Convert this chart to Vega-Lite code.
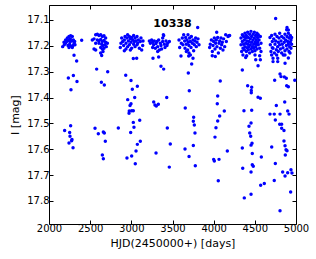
{
  "$schema": "https://vega.github.io/schema/vega-lite/v6.json",
  "width": 247,
  "height": 219,
  "autosize": {"type": "none"},
  "padding": {"left": 49, "top": 5, "right": 20, "bottom": 35},
  "background": "white",
  "title": {"text": "10338", "font": "DejaVu Sans", "fontSize": 11, "fontWeight": "bold", "color": "black", "anchor": "middle", "frame": "group", "offset": -24},
  "config": {
    "view": {"stroke": "black", "strokeWidth": 1},
    "axis": {"grid": false, "domain": false, "tickColor": "black", "tickSize": -4, "labelFont": "DejaVu Sans", "labelFontSize": 10, "labelColor": "black", "titleFont": "DejaVu Sans", "titleFontSize": 11, "titleFontWeight": "normal", "titleColor": "black", "labelFlush": false, "labelOverlap": false, "labelBound": false}
  },
  "data": {"values": [
    {"t":2166,"m":17.203},{"t":2182,"m":17.186},{"t":2202,"m":17.177},{"t":2223,"m":17.170},{"t":2243,"m":17.164},{"t":2263,"m":17.161},{"t":2283,"m":17.164},{"t":2235,"m":17.179},{"t":2255,"m":17.183},{"t":2275,"m":17.181},{"t":2296,"m":17.177},{"t":2304,"m":17.190},{"t":2251,"m":17.194},{"t":2231,"m":17.199},{"t":2267,"m":17.201},{"t":2292,"m":17.199},{"t":2316,"m":17.196},{"t":2202,"m":17.190},{"t":2186,"m":17.196},{"t":2243,"m":17.206},{"t":2283,"m":17.206},{"t":2312,"m":17.183},{"t":2215,"m":17.183},{"t":2259,"m":17.173},
    {"t":2526,"m":17.177},{"t":2547,"m":17.173},{"t":2567,"m":17.157},{"t":2587,"m":17.155},{"t":2607,"m":17.160},{"t":2628,"m":17.157},{"t":2648,"m":17.164},{"t":2668,"m":17.161},{"t":2587,"m":17.177},{"t":2607,"m":17.181},{"t":2628,"m":17.175},{"t":2648,"m":17.183},{"t":2668,"m":17.179},{"t":2688,"m":17.186},{"t":2709,"m":17.190},{"t":2640,"m":17.194},{"t":2656,"m":17.199},{"t":2680,"m":17.196},{"t":2696,"m":17.203},{"t":2547,"m":17.212},{"t":2567,"m":17.216},{"t":2628,"m":17.206},{"t":2648,"m":17.212},{"t":2668,"m":17.209},{"t":2628,"m":17.228},{"t":2640,"m":17.237},{"t":2656,"m":17.222},{"t":2607,"m":17.190},{"t":2567,"m":17.190},{"t":2688,"m":17.170},
    {"t":2866,"m":17.206},{"t":2883,"m":17.170},{"t":2895,"m":17.183},{"t":2907,"m":17.199},{"t":2915,"m":17.177},{"t":2923,"m":17.164},{"t":2935,"m":17.190},{"t":2947,"m":17.170},{"t":2955,"m":17.157},{"t":2964,"m":17.181},{"t":2976,"m":17.164},{"t":2976,"m":17.196},{"t":2988,"m":17.173},{"t":2996,"m":17.186},{"t":3004,"m":17.168},{"t":3004,"m":17.209},{"t":3016,"m":17.177},{"t":3028,"m":17.160},{"t":3028,"m":17.194},{"t":3036,"m":17.183},{"t":3045,"m":17.170},{"t":3045,"m":17.203},{"t":3057,"m":17.181},{"t":3069,"m":17.164},{"t":3069,"m":17.196},{"t":3077,"m":17.190},{"t":3085,"m":17.177},{"t":3097,"m":17.209},{"t":3109,"m":17.183},{"t":3117,"m":17.170},{"t":3126,"m":17.216},{"t":3138,"m":17.199},{"t":3142,"m":17.181},{"t":2874,"m":17.190},{"t":2935,"m":17.212},{"t":2988,"m":17.216},{"t":2915,"m":17.219},{"t":2955,"m":17.203},
    {"t":3219,"m":17.181},{"t":3231,"m":17.190},{"t":3247,"m":17.177},{"t":3259,"m":17.186},{"t":3271,"m":17.196},{"t":3279,"m":17.181},{"t":3292,"m":17.209},{"t":3300,"m":17.191},{"t":3312,"m":17.183},{"t":3320,"m":17.203},{"t":3332,"m":17.177},{"t":3340,"m":17.216},{"t":3352,"m":17.190},{"t":3360,"m":17.199},{"t":3368,"m":17.212},{"t":3381,"m":17.170},{"t":3381,"m":17.183},{"t":3393,"m":17.160},{"t":3401,"m":17.194},{"t":3409,"m":17.206},{"t":3421,"m":17.181},{"t":3433,"m":17.199},{"t":3441,"m":17.190},{"t":3462,"m":17.183},{"t":3259,"m":17.206},{"t":3320,"m":17.222},
    {"t":3579,"m":17.177},{"t":3587,"m":17.206},{"t":3607,"m":17.190},{"t":3619,"m":17.170},{"t":3627,"m":17.196},{"t":3636,"m":17.157},{"t":3648,"m":17.181},{"t":3652,"m":17.209},{"t":3660,"m":17.168},{"t":3668,"m":17.194},{"t":3676,"m":17.177},{"t":3684,"m":17.216},{"t":3688,"m":17.157},{"t":3692,"m":17.186},{"t":3700,"m":17.199},{"t":3708,"m":17.170},{"t":3717,"m":17.183},{"t":3725,"m":17.206},{"t":3729,"m":17.164},{"t":3741,"m":17.190},{"t":3749,"m":17.177},{"t":3757,"m":17.219},{"t":3765,"m":17.196},{"t":3773,"m":17.181},{"t":3781,"m":17.170},{"t":3789,"m":17.203},{"t":3798,"m":17.186},{"t":3810,"m":17.173},{"t":3822,"m":17.196},{"t":3700,"m":17.228},{"t":3717,"m":17.235},{"t":3668,"m":17.222},
    {"t":3951,"m":17.206},{"t":3959,"m":17.194},{"t":3972,"m":17.177},{"t":3984,"m":17.222},{"t":3992,"m":17.199},{"t":4000,"m":17.183},{"t":4008,"m":17.170},{"t":4016,"m":17.212},{"t":4024,"m":17.190},{"t":4032,"m":17.177},{"t":4040,"m":17.203},{"t":4049,"m":17.168},{"t":4057,"m":17.228},{"t":4065,"m":17.190},{"t":4073,"m":17.181},{"t":4081,"m":17.209},{"t":4089,"m":17.170},{"t":4097,"m":17.196},{"t":4105,"m":17.186},{"t":4113,"m":17.216},{"t":4121,"m":17.173},{"t":4134,"m":17.203},{"t":4146,"m":17.157},{"t":4154,"m":17.183},{"t":4174,"m":17.164},{"t":4194,"m":17.160},{"t":4020,"m":17.241},
    {"t":4332,"m":17.170},{"t":4332,"m":17.196},{"t":4340,"m":17.222},{"t":4348,"m":17.157},{"t":4348,"m":17.183},{"t":4356,"m":17.209},{"t":4364,"m":17.164},{"t":4364,"m":17.194},{"t":4372,"m":17.177},{"t":4372,"m":17.215},{"t":4380,"m":17.151},{"t":4380,"m":17.203},{"t":4389,"m":17.170},{"t":4389,"m":17.190},{"t":4397,"m":17.160},{"t":4397,"m":17.222},{"t":4405,"m":17.181},{"t":4405,"m":17.207},{"t":4413,"m":17.147},{"t":4413,"m":17.194},{"t":4421,"m":17.168},{"t":4421,"m":17.215},{"t":4429,"m":17.183},{"t":4429,"m":17.203},{"t":4437,"m":17.155},{"t":4437,"m":17.228},{"t":4445,"m":17.173},{"t":4445,"m":17.196},{"t":4453,"m":17.144},{"t":4453,"m":17.212},{"t":4461,"m":17.164},{"t":4461,"m":17.186},{"t":4470,"m":17.203},{"t":4470,"m":17.222},{"t":4478,"m":17.155},{"t":4478,"m":17.177},{"t":4486,"m":17.194},{"t":4486,"m":17.209},{"t":4494,"m":17.147},{"t":4494,"m":17.170},{"t":4502,"m":17.186},{"t":4502,"m":17.219},{"t":4510,"m":17.160},{"t":4510,"m":17.203},{"t":4518,"m":17.177},{"t":4518,"m":17.194},{"t":4526,"m":17.151},{"t":4526,"m":17.212},{"t":4534,"m":17.168},{"t":4534,"m":17.186},{"t":4542,"m":17.196},{"t":4542,"m":17.157},{"t":4551,"m":17.177},{"t":4559,"m":17.209},{"t":4567,"m":17.164},{"t":4575,"m":17.190},{"t":4575,"m":17.222},{"t":4356,"m":17.235},{"t":4401,"m":17.238},{"t":4559,"m":17.238},{"t":4502,"m":17.235},
    {"t":4684,"m":17.168},{"t":4688,"m":17.196},{"t":4696,"m":17.222},{"t":4704,"m":17.160},{"t":4712,"m":17.183},{"t":4721,"m":17.209},{"t":4729,"m":17.173},{"t":4737,"m":17.228},{"t":4745,"m":17.155},{"t":4745,"m":17.194},{"t":4753,"m":17.181},{"t":4761,"m":17.215},{"t":4769,"m":17.164},{"t":4777,"m":17.203},{"t":4785,"m":17.186},{"t":4785,"m":17.222},{"t":4793,"m":17.170},{"t":4802,"m":17.151},{"t":4802,"m":17.196},{"t":4810,"m":17.212},{"t":4818,"m":17.181},{"t":4826,"m":17.164},{"t":4826,"m":17.228},{"t":4834,"m":17.194},{"t":4842,"m":17.207},{"t":4850,"m":17.170},{"t":4858,"m":17.186},{"t":4866,"m":17.155},{"t":4866,"m":17.219},{"t":4874,"m":17.177},{"t":4883,"m":17.199},{"t":4891,"m":17.164},{"t":4891,"m":17.212},{"t":4899,"m":17.183},{"t":4907,"m":17.151},{"t":4907,"m":17.194},{"t":4915,"m":17.170},{"t":4915,"m":17.222},{"t":4923,"m":17.203},{"t":4931,"m":17.160},{"t":4931,"m":17.186},{"t":4939,"m":17.177},{"t":4939,"m":17.209},{"t":4947,"m":17.194},{"t":4947,"m":17.168},{"t":4704,"m":17.235},{"t":4866,"m":17.235},{"t":4927,"m":17.228},{"t":4887,"m":17.138},{"t":4712,"m":17.207},{"t":4765,"m":17.235},{"t":4846,"m":17.235},
    {"t":2304,"m":17.236},{"t":2336,"m":17.259},{"t":2235,"m":17.324},{"t":2296,"m":17.315},{"t":2340,"m":17.338},{"t":2267,"m":17.370},{"t":2579,"m":17.290},{"t":2713,"m":17.300},{"t":2636,"m":17.341},{"t":2672,"m":17.351},{"t":2397,"m":17.178},{"t":2263,"m":17.509},{"t":2190,"m":17.527},{"t":2251,"m":17.535},{"t":2255,"m":17.550},{"t":2279,"m":17.562},{"t":2275,"m":17.567},{"t":2243,"m":17.576},{"t":2292,"m":17.594},{"t":2559,"m":17.519},{"t":2599,"m":17.540},{"t":2660,"m":17.533},{"t":2672,"m":17.537},{"t":2684,"m":17.569},{"t":2648,"m":17.622},{"t":2660,"m":17.637},
    {"t":3024,"m":17.249},{"t":3065,"m":17.248},{"t":3263,"m":17.248},{"t":3332,"m":17.243},{"t":3360,"m":17.279},{"t":3393,"m":17.290},{"t":2932,"m":17.314},{"t":2996,"m":17.334},{"t":3073,"m":17.356},{"t":3012,"m":17.368},{"t":2956,"m":17.408},{"t":3041,"m":17.400},{"t":2996,"m":17.424},{"t":2984,"m":17.431},{"t":2975,"m":17.452},{"t":3004,"m":17.451},{"t":3024,"m":17.451},{"t":2972,"m":17.461},{"t":3272,"m":17.417},{"t":3303,"m":17.433},{"t":3287,"m":17.429},{"t":3328,"m":17.426},{"t":3430,"m":17.400},{"t":3024,"m":17.496},{"t":3102,"m":17.488},{"t":2842,"m":17.518},{"t":3032,"m":17.515},{"t":2992,"m":17.535},{"t":3109,"m":17.569},{"t":3073,"m":17.581},{"t":3057,"m":17.607},{"t":3004,"m":17.626},{"t":2947,"m":17.634},{"t":3048,"m":17.656},{"t":3437,"m":17.518},{"t":3473,"m":17.580},{"t":3300,"m":17.614},{"t":3461,"m":17.669},{"t":3389,"m":17.157},
    {"t":3806,"m":17.129},{"t":4037,"m":17.147},{"t":4183,"m":17.161},{"t":3603,"m":17.239},{"t":3697,"m":17.239},{"t":3749,"m":17.248},{"t":3733,"m":17.270},{"t":3692,"m":17.305},{"t":3704,"m":17.374},{"t":3655,"m":17.440},{"t":3983,"m":17.238},{"t":4080,"m":17.336},{"t":4049,"m":17.394},{"t":4044,"m":17.424},{"t":4129,"m":17.452},{"t":3757,"m":17.476},{"t":3753,"m":17.492},{"t":3765,"m":17.506},{"t":3773,"m":17.537},{"t":3753,"m":17.585},{"t":3652,"m":17.599},{"t":3701,"m":17.628},{"t":3777,"m":17.664},{"t":4073,"m":17.471},{"t":4049,"m":17.491},{"t":4028,"m":17.517},{"t":4016,"m":17.553},{"t":4166,"m":17.607},{"t":4000,"m":17.639},{"t":4008,"m":17.645},{"t":4065,"m":17.639},{"t":4056,"m":17.722},
    {"t":4753,"m":17.094},{"t":4891,"m":17.129},{"t":4907,"m":17.139},{"t":4348,"m":17.293},{"t":4389,"m":17.245},{"t":4511,"m":17.254},{"t":4539,"m":17.277},{"t":4567,"m":17.254},{"t":4413,"m":17.354},{"t":4462,"m":17.360},{"t":4457,"m":17.373},{"t":4457,"m":17.381},{"t":4539,"m":17.399},{"t":4567,"m":17.403},{"t":4368,"m":17.451},{"t":4462,"m":17.449},{"t":4721,"m":17.248},{"t":4721,"m":17.261},{"t":4778,"m":17.248},{"t":4778,"m":17.261},{"t":4867,"m":17.267},{"t":4907,"m":17.247},{"t":4806,"m":17.309},{"t":4818,"m":17.319},{"t":4858,"m":17.320},{"t":4882,"m":17.325},{"t":4741,"m":17.333},{"t":4887,"m":17.354},{"t":4907,"m":17.358},{"t":4985,"m":17.333},{"t":4761,"m":17.431},{"t":4863,"m":17.417},{"t":4684,"m":17.464},{"t":4736,"m":17.464},{"t":4806,"m":17.464},{"t":4899,"m":17.452},{"t":4915,"m":17.464},
    {"t":4749,"m":17.487},{"t":4802,"m":17.503},{"t":4826,"m":17.503},{"t":4826,"m":17.519},{"t":4854,"m":17.527},{"t":4454,"m":17.498},{"t":4429,"m":17.511},{"t":4438,"m":17.537},{"t":4450,"m":17.550},{"t":4466,"m":17.577},{"t":4454,"m":17.584},{"t":4348,"m":17.595},{"t":4469,"m":17.616},{"t":4579,"m":17.630},{"t":4705,"m":17.591},{"t":4854,"m":17.568},{"t":4867,"m":17.586},{"t":4879,"m":17.602},{"t":4891,"m":17.606},{"t":4870,"m":17.622},{"t":4469,"m":17.660},{"t":4481,"m":17.666},{"t":4749,"m":17.655},{"t":4353,"m":17.673},{"t":4454,"m":17.688},{"t":4838,"m":17.688},{"t":4867,"m":17.703},{"t":4899,"m":17.691},{"t":4939,"m":17.679},{"t":4951,"m":17.692},{"t":4736,"m":17.721},{"t":4615,"m":17.732},{"t":4571,"m":17.739},{"t":4935,"m":17.765},{"t":4454,"m":17.774},{"t":4372,"m":17.788},{"t":4806,"m":17.838}
  ]},
  "layer": [
    {
      "mark": {"type": "circle", "color": "#0000ff", "opacity": 1, "size": 12},
      "encoding": {
        "x": {"field": "t", "type": "quantitative", "scale": {"domain": [2000, 5000], "nice": false, "zero": false},
              "axis": {"title": "HJD(2450000+) [days]", "values": [2000, 2500, 3000, 3500, 4000, 4500, 5000], "format": "d", "labelPadding": 3, "titlePadding": 4}},
        "y": {"field": "m", "type": "quantitative", "scale": {"domain": [17.889, 17.042], "nice": false, "zero": false},
              "axis": {"title": "I [mag]", "values": [17.1, 17.2, 17.3, 17.4, 17.5, 17.6, 17.7, 17.8], "format": ".1f", "labelPadding": 4, "titlePadding": 6}}
      }
    },
    {
      "mark": {"type": "circle", "opacity": 0},
      "encoding": {
        "x": {"field": "t", "type": "quantitative", "scale": {"domain": [2000, 5000], "nice": false, "zero": false},
              "axis": {"orient": "top", "title": null, "labels": false, "values": [2000, 2500, 3000, 3500, 4000, 4500, 5000]}},
        "y": {"field": "m", "type": "quantitative", "scale": {"domain": [17.889, 17.042], "nice": false, "zero": false},
              "axis": {"orient": "right", "title": null, "labels": false, "values": [17.1, 17.2, 17.3, 17.4, 17.5, 17.6, 17.7, 17.8]}}
      }
    }
  ],
  "resolve": {"axis": {"x": "independent", "y": "independent"}}
}
